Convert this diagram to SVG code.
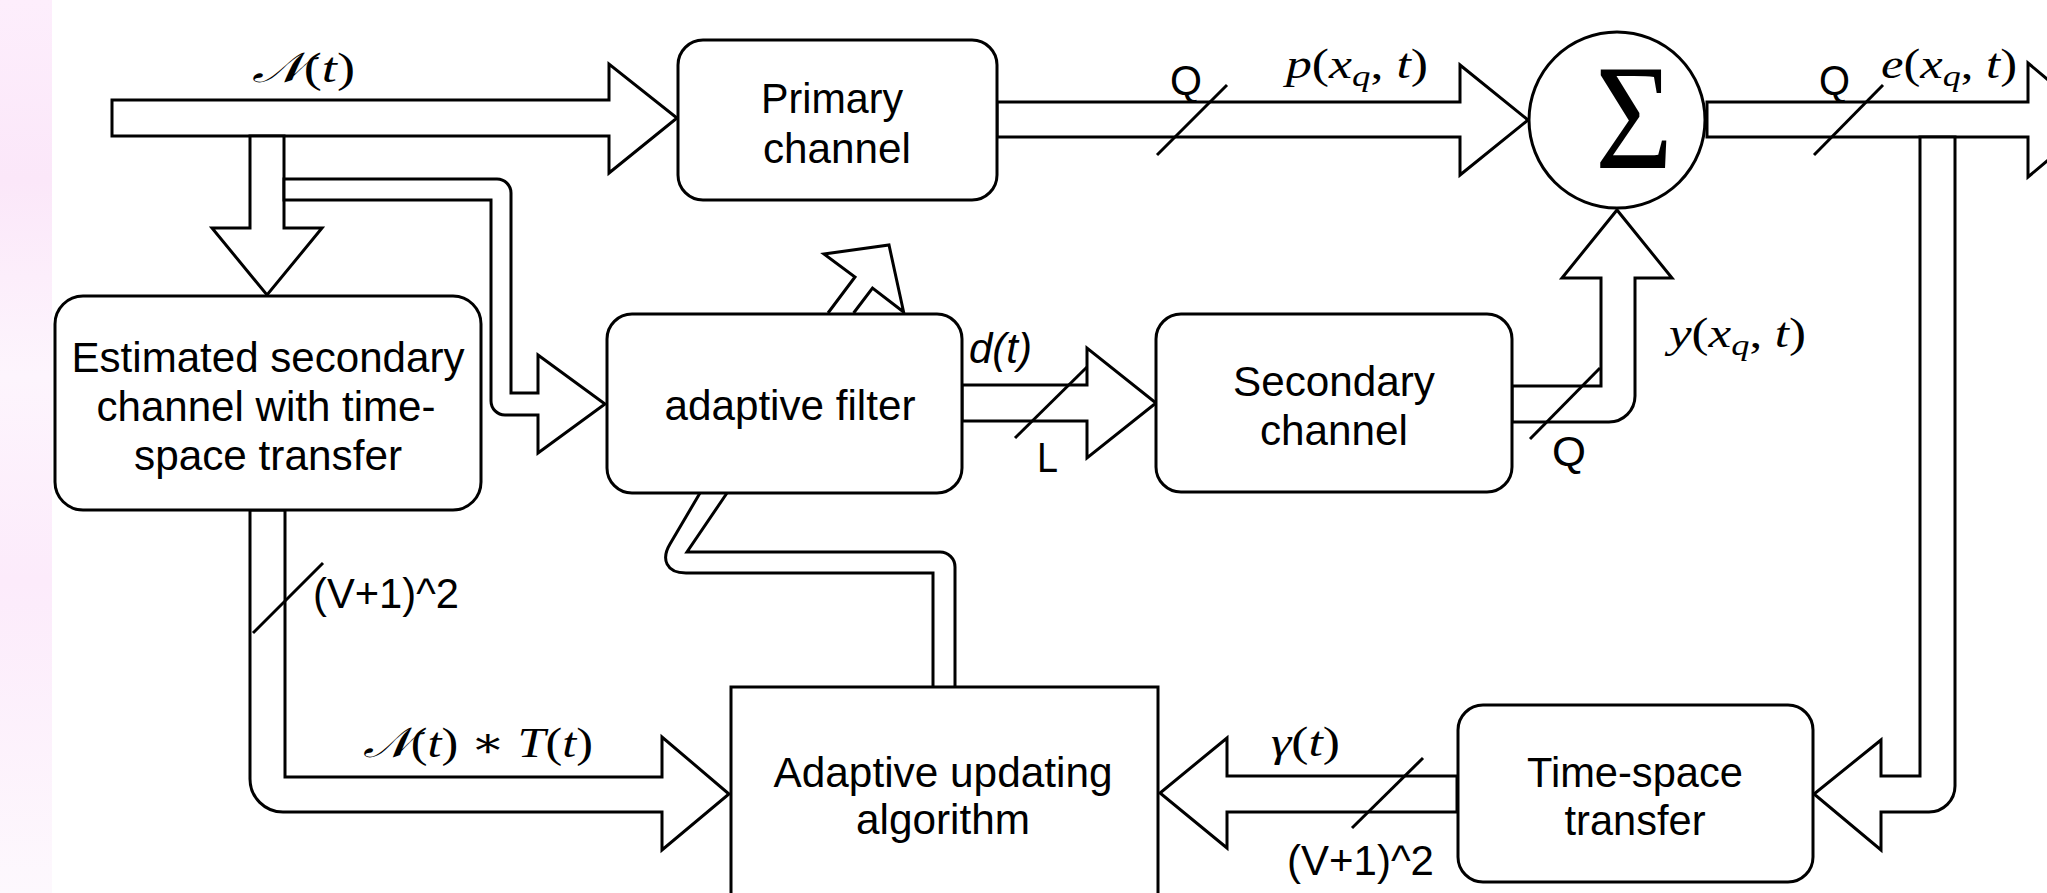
<svg xmlns="http://www.w3.org/2000/svg" width="2047" height="893" viewBox="0 0 2047 893">
<defs>
<linearGradient id="pink" x1="0" y1="0" x2="0" y2="1">
<stop offset="0" stop-color="#fdeefc"/>
<stop offset="0.2" stop-color="#fbe7f9"/>
<stop offset="0.42" stop-color="#fdf5fd"/>
<stop offset="0.65" stop-color="#fcebfb"/>
<stop offset="1" stop-color="#fdf8fd"/>
</linearGradient>
<style>
.ln{fill:none;stroke:#000;stroke-width:3}
.ar{fill:#fff;stroke:#000;stroke-width:3;stroke-linejoin:miter}
.box{fill:#fff;stroke:#000;stroke-width:3}
.t{font-family:"Liberation Sans",Arial,Helvetica,sans-serif;font-size:42px;text-anchor:middle;fill:#000}
.s{font-family:"Liberation Sans",Arial,Helvetica,sans-serif;font-size:42px;fill:#000}
.m{font-family:"Liberation Serif","Times New Roman","DejaVu Serif",serif;font-size:42px;fill:#000}
.i{font-style:italic}
.sub{font-size:30px}
</style>
</defs>
<rect x="0" y="0" width="2047" height="893" fill="#fff"/>
<rect x="0" y="0" width="52" height="893" fill="url(#pink)"/>

<g id="connectors">
<path class="ar" d="M112,100 L609,100 L609,64 L677,118 L609,173 L609,136 L112,136 Z"/>
<path class="ar" d="M250,136 L250,228 L212,228 L267,295 L322,228 L284,228 L284,136 Z"/>
<path class="ar" d="M284,179 L497,179 A14,14 0 0 1 511,193 L511,393 L538,393 L538,355 L605,404 L538,453 L538,415 L505,415 A14,14 0 0 1 491,401 L491,200 L284,200 Z"/>
<path class="ar" d="M997,102 L1460,102 L1460,65 L1528,120 L1460,175 L1460,137 L997,137 Z"/>
<path class="ar" d="M1707,102 L2028,102 L2028,63 L2096,120 L2028,177 L2028,137 L1707,137 Z"/>
<path class="ar" d="M1920,137 L1920,776 L1881,776 L1881,740 L1814,794 L1881,850 L1881,812 L1929,812 A26,26 0 0 0 1955,786 L1955,137 Z"/>
<path class="ar" d="M1512,386 L1601,386 L1601,278 L1562,278 L1617,210 L1672,278 L1635,278 L1635,396 A26,26 0 0 1 1609,422 L1512,422 Z"/>
<path class="ar" d="M962,385 L1087,385 L1087,348 L1156,403 L1087,458 L1087,421 L962,421 Z"/>
<path class="ar" d="M250,510 L250,779 A33,33 0 0 0 283,812 L662,812 L662,850 L729,794 L662,737 L662,777 L285,777 L285,510 Z"/>
<path class="ar" d="M1457,776 L1227,776 L1227,738 L1160,793 L1227,848 L1227,812 L1457,812 Z"/>
<path class="ln" d="M700,493 L670,544 C661,559 666,573 686,573 L933,573 L933,687"/>
<path class="ln" d="M727,493 L687,552 L940,552 A15,15 0 0 1 955,567 L955,687"/>
<path class="ar" d="M828,313 L855,277 L824,254 L889,245 L903.6,312 L872.5,288 L853.6,313"/>
<line class="ln" x1="1157" y1="155" x2="1227" y2="85"/>
<line class="ln" x1="1814" y1="155" x2="1883" y2="85"/>
<line class="ln" x1="1015" y1="438" x2="1087" y2="367"/>
<line class="ln" x1="1530" y1="439" x2="1600" y2="368"/>
<line class="ln" x1="253" y1="633" x2="323" y2="563"/>
<line class="ln" x1="1352" y1="828" x2="1423" y2="758"/>
<text class="m" x="252" y="82" textLength="103" lengthAdjust="spacingAndGlyphs"><tspan class="i">𝒩</tspan>(<tspan class="i">t</tspan>)</text>
<text class="m" x="1286" y="78" textLength="142" lengthAdjust="spacingAndGlyphs"><tspan class="i">p</tspan>(<tspan class="i">x</tspan><tspan class="i sub" dy="8">q</tspan><tspan dy="-8">, </tspan><tspan class="i">t</tspan>)</text>
<text class="m" x="1881" y="78" textLength="136" lengthAdjust="spacingAndGlyphs"><tspan class="i">e</tspan>(<tspan class="i">x</tspan><tspan class="i sub" dy="8">q</tspan><tspan dy="-8">, </tspan><tspan class="i">t</tspan>)</text>
<text class="m" x="1669" y="347" textLength="137" lengthAdjust="spacingAndGlyphs"><tspan class="i">y</tspan>(<tspan class="i">x</tspan><tspan class="i sub" dy="8">q</tspan><tspan dy="-8">, </tspan><tspan class="i">t</tspan>)</text>
<text class="m" x="363" y="757" textLength="230" lengthAdjust="spacingAndGlyphs"><tspan class="i">𝒩</tspan>(<tspan class="i">t</tspan>) ∗ <tspan class="i">T</tspan>(<tspan class="i">t</tspan>)</text>
<text class="m" x="1271" y="756" textLength="69" lengthAdjust="spacingAndGlyphs"><tspan class="i">γ</tspan>(<tspan class="i">t</tspan>)</text>
<text class="s i" x="969" y="363" textLength="63" lengthAdjust="spacingAndGlyphs">d(t)</text>
<text class="s" x="1170" y="95" textLength="32" lengthAdjust="spacingAndGlyphs">Q</text>
<text class="s" x="1819" y="95" textLength="31" lengthAdjust="spacingAndGlyphs">Q</text>
<text class="s" x="1552" y="466" textLength="34" lengthAdjust="spacingAndGlyphs">Q</text>
<text class="s" x="1037" y="472" textLength="21" lengthAdjust="spacingAndGlyphs">L</text>
<text class="s" x="313" y="608" textLength="146" lengthAdjust="spacingAndGlyphs">(V+1)^2</text>
<text class="s" x="1287" y="875" textLength="147" lengthAdjust="spacingAndGlyphs">(V+1)^2</text>
</g>

<g id="primary-channel">
<rect class="box" x="678" y="40" width="319" height="160" rx="25"/>
<text class="t" x="832" y="113" textLength="142" lengthAdjust="spacingAndGlyphs">Primary</text>
<text class="t" x="837" y="163" textLength="148" lengthAdjust="spacingAndGlyphs">channel</text>
</g>
<g id="sum">
<circle class="box" cx="1617" cy="120" r="88"/>
<text class="m" x="1634" y="168" font-size="150" text-anchor="middle" style="font-size:150px" textLength="78" lengthAdjust="spacingAndGlyphs">Σ</text>
</g>
<g id="estimated-secondary-channel">
<rect class="box" x="55" y="296" width="426" height="214" rx="28"/>
<text class="t" x="268" y="372" textLength="393" lengthAdjust="spacingAndGlyphs">Estimated secondary</text>
<text class="t" x="266" y="421" textLength="339" lengthAdjust="spacingAndGlyphs">channel with time-</text>
<text class="t" x="268" y="470" textLength="268" lengthAdjust="spacingAndGlyphs">space transfer</text>
</g>
<g id="adaptive-filter">
<rect class="box" x="607" y="314" width="355" height="179" rx="25"/>
<text class="t" x="790" y="420" textLength="251" lengthAdjust="spacingAndGlyphs">adaptive filter</text>
</g>
<g id="secondary-channel">
<rect class="box" x="1156" y="314" width="356" height="178" rx="25"/>
<text class="t" x="1334" y="396" textLength="202" lengthAdjust="spacingAndGlyphs">Secondary</text>
<text class="t" x="1334" y="445" textLength="148" lengthAdjust="spacingAndGlyphs">channel</text>
</g>
<g id="adaptive-updating-algorithm">
<rect class="box" x="731" y="687" width="427" height="240"/>
<text class="t" x="943" y="787" textLength="339" lengthAdjust="spacingAndGlyphs">Adaptive updating</text>
<text class="t" x="943" y="834" textLength="174" lengthAdjust="spacingAndGlyphs">algorithm</text>
</g>
<g id="time-space-transfer">
<rect class="box" x="1458" y="705" width="355" height="177" rx="25"/>
<text class="t" x="1635" y="787" textLength="216" lengthAdjust="spacingAndGlyphs">Time-space</text>
<text class="t" x="1635" y="835" textLength="141" lengthAdjust="spacingAndGlyphs">transfer</text>
</g>
</svg>
